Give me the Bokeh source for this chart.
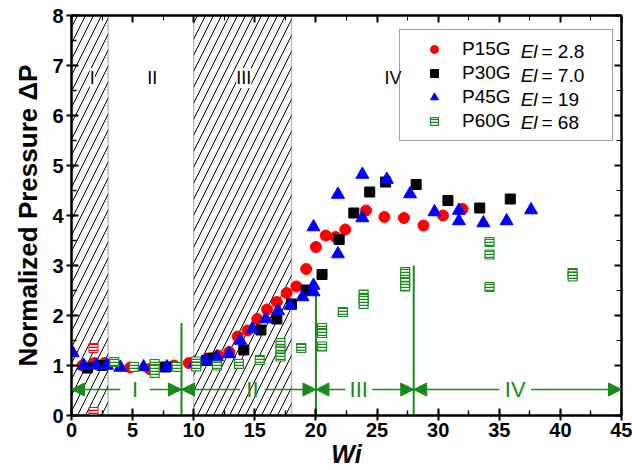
from bokeh.plotting import figure
from bokeh.models import (Range1d, LinearAxis, SingleIntervalTicker, BoxAnnotation, Arrow,
                          NormalHead, Label, Legend, LegendItem)
from bokeh.embed import file_html
from bokeh.resources import INLINE

# ---------------- data ----------------
p15_x = [0.9, 1.9, 2.7, 4.8, 6.4, 8.4, 9.6, 11.1, 12.0, 12.9, 13.6, 14.4, 15.2, 16.0, 16.8, 17.6,
         18.4, 19.2, 20.0, 20.8, 21.6, 22.4, 24.1, 25.6, 27.2, 28.8, 30.4, 32.0]
p15_y = [1.0, 1.05, 1.05, 0.96, 0.93, 1.0, 1.05, 1.14, 1.2, 1.27, 1.58, 1.70, 1.93, 2.12, 2.27, 2.45,
         2.58, 2.93, 3.37, 3.6, 3.57, 3.72, 4.1, 3.97, 3.95, 3.8, 4.0, 4.13]

p30_x = [1.3, 2.5, 7.7, 11.05, 11.6, 14.1, 15.5, 16.8, 18.0, 19.2, 20.5, 21.9, 23.1, 24.4, 25.7,
         28.2, 30.8, 33.4, 35.9]
p30_y = [0.95, 1.0, 0.97, 1.1, 1.15, 1.31, 1.71, 1.93, 2.23, 2.51, 2.82, 3.52, 4.05, 4.47, 4.67,
         4.62, 4.3, 4.15, 4.33]

p45_x = [0.1, 1.0, 2.0, 2.9, 4.0, 5.9, 7.8, 10.1, 11.0, 11.9, 12.9, 13.8, 14.8, 15.9, 16.9, 17.9,
         18.9, 19.8, 19.8, 19.8, 21.8, 21.8, 23.8, 23.8, 25.8, 27.7, 29.7, 31.7, 31.7, 33.7, 35.6, 37.6]
p45_y = [1.25, 1.0, 1.0, 1.0, 0.96, 0.97, 0.97, 1.05, 1.1, 1.17, 1.23, 1.5, 1.73, 1.93, 2.09, 2.2,
         2.37, 2.6, 2.47, 3.77, 3.23, 4.42, 3.95, 4.82, 4.72, 4.43, 4.07, 4.1, 3.89, 3.85, 3.89, 4.11]

p60_x = [3.5, 5.1, 6.8, 6.8, 6.8, 8.6, 10.2, 10.2, 11.9, 13.7, 15.4, 17.1, 17.1, 17.1, 18.8,
         20.5, 20.5, 20.5, 22.2, 23.9, 23.9, 23.9, 27.3, 27.3, 27.3, 27.3, 34.2, 34.2, 34.2, 41.0, 41.0]
p60_y = [1.07, 0.97, 1.03, 0.93, 0.85, 0.97, 1.08, 0.98, 1.0, 1.03, 1.11, 1.45, 1.3, 1.18, 1.35,
         1.75, 1.65, 1.38, 2.07, 2.42, 2.33, 2.23, 2.87, 2.77, 2.67, 2.58, 3.47, 3.22, 2.57, 2.85, 2.78]

odd_x = [1.8, 1.8]
odd_y = [1.35, 0.07]

series_names = ["P15G", "P30G", "P45G", "P60G"]
el_values = ["2.8", "7.0", "19", "68"]

hatch_zones = [(0, 3), (10, 18)]
zone_labels = ["I", "II", "III", "IV"]
zone_label_x = [1.7, 6.6, 14.1, 26.3]
zone_label_y = 6.75

regime_bounds = [0, 9, 20, 28, 45]
regime_line_top = [1.85, 2.6, 3.0]
regime_labels = ["I", "II", "III", "IV"]
regime_label_x = [5.2, 14.8, 23.5, 36.3]
regime_gap = [1.2, 1.0, 1.1, 1.3]
arrow_y = 0.52

GREEN = "#1a8a1a"
FONT = "Liberation Sans"

# ---------------- figure ----------------
p = figure(width=632, height=470, x_range=Range1d(0, 45), y_range=Range1d(0, 8),
           output_backend="svg", toolbar_location=None,
           min_border_left=71, min_border_right=11, min_border_top=15, min_border_bottom=55)
p.xgrid.visible = False
p.ygrid.visible = False
p.outline_line_color = "black"
p.outline_line_width = 2
p.background_fill_color = "white"
p.border_fill_color = "white"

xa = p.xaxis[0]
xa.ticker = SingleIntervalTicker(interval=5, num_minor_ticks=2)
xa.axis_label = "Wi"
ya = p.yaxis[0]
ya.ticker = SingleIntervalTicker(interval=1, num_minor_ticks=2)
ya.axis_label = "Normalized Pressure \u0394P"

for ax in (xa, ya):
    ax.axis_line_width = 2
    ax.major_tick_line_width = 2
    ax.minor_tick_line_width = 1.5
    ax.major_label_text_font = FONT
    ax.major_label_text_font_style = "bold"
    ax.major_label_text_font_size = "20px"
    ax.major_label_text_color = "black"
    ax.axis_label_text_font = FONT
    ax.axis_label_text_color = "black"
    ax.major_tick_in = 7
    ax.major_tick_out = 5
    ax.minor_tick_in = 5
    ax.minor_tick_out = 0
xa.axis_label_text_font_style = "bold italic"
xa.axis_label_text_font_size = "25px"
xa.axis_label_standoff = 0
xa.major_label_standoff = 2
ya.axis_label_text_font_style = "bold"
ya.axis_label_text_font_size = "26px"
ya.axis_label_standoff = 6
ya.major_label_standoff = 3

for loc, interval in (("above", 5), ("right", 1)):
    ax = LinearAxis(ticker=SingleIntervalTicker(interval=interval, num_minor_ticks=2),
                    major_label_text_font_size="0px", major_label_text_color=None,
                    major_tick_in=7, major_tick_out=0, minor_tick_in=5, minor_tick_out=0,
                    axis_line_width=2, major_tick_line_width=2)
    p.add_layout(ax, loc)

# hatched zones
for (a, b) in hatch_zones:
    box = BoxAnnotation(left=a, right=b, fill_color=None, line_color="#333333", line_width=1.5,
                        hatch_pattern="/", hatch_color="black", hatch_alpha=1.0,
                        hatch_weight=1, hatch_scale=16, level="underlay")
    p.add_layout(box)

for t, x in zip(zone_labels, zone_label_x):
    p.add_layout(Label(x=x, y=zone_label_y, text=t, text_align="center", text_baseline="middle",
                       text_font=FONT, text_font_size="18px", text_color="black",
                       background_fill_color="white"))

# regime lines
p.segment(x0=regime_bounds[1:4], y0=[0, 0, 0], x1=regime_bounds[1:4], y1=regime_line_top,
          line_color=GREEN, line_width=2)

for i, t in enumerate(regime_labels):
    lo, hi = regime_bounds[i], regime_bounds[i + 1]
    cx, g = regime_label_x[i], regime_gap[i]
    p.add_layout(Arrow(x_start=cx - g, y_start=arrow_y, x_end=lo, y_end=arrow_y,
                       line_color=GREEN, line_width=1.5,
                       end=NormalHead(size=13, fill_color=GREEN, line_color=GREEN)))
    p.add_layout(Arrow(x_start=cx + g, y_start=arrow_y, x_end=hi, y_end=arrow_y,
                       line_color=GREEN, line_width=1.5,
                       end=NormalHead(size=13, fill_color=GREEN, line_color=GREEN)))
    p.add_layout(Label(x=cx, y=arrow_y, text=t, text_align="center", text_baseline="middle",
                       text_font=FONT, text_font_size="22px", text_color=GREEN))

# data
r15 = p.scatter(p15_x, p15_y, marker="circle", size=11, fill_color="red", line_color="red")
r_odd = p.scatter(odd_x, odd_y, marker="square", size=9, fill_color="white", line_color="red",
                  hatch_pattern="-", hatch_color="red", hatch_scale=3, hatch_weight=1.5)
r30 = p.scatter(p30_x, p30_y, marker="square", size=10, fill_color="black", line_color="black")
r45 = p.scatter(p45_x, p45_y, marker="triangle", size=13, fill_color="blue", line_color="blue")
r60 = p.scatter(p60_x, p60_y, marker="square", size=9, fill_color="white", line_color=GREEN,
                line_width=1.2, hatch_pattern="-", hatch_color=GREEN, hatch_scale=3, hatch_weight=1.5)

# El labels inside the legend (legend background is transparent, no data lies there)
row_y = [7.28, 6.81, 6.33, 5.86]
for yy, v in zip(row_y, el_values):
    p.add_layout(Label(x=36.75, y=yy, text="El",
                       text_align="left", text_baseline="middle", text_font=FONT,
                       text_font_style="italic", text_font_size="19px", text_color="black"))
    p.add_layout(Label(x=38.45, y=yy, text="= " + v,
                       text_align="left", text_baseline="middle", text_font=FONT,
                       text_font_size="19px", text_color="black"))

renderers = [r15, r30, r45, r60]
legend = Legend(items=[LegendItem(label=n, renderers=[r]) for n, r in zip(series_names, renderers)],
                location=(328, 274), padding=8, spacing=2, glyph_width=52, glyph_height=20,
                label_height=20, label_width=142, label_standoff=2, label_text_font=FONT,
                label_text_font_size="19px", label_text_color="black",
                border_line_color="#444444", border_line_width=1.2,
                background_fill_color=None, margin=0)
p.add_layout(legend)

open("out.html", "w").write(file_html(p, INLINE))
